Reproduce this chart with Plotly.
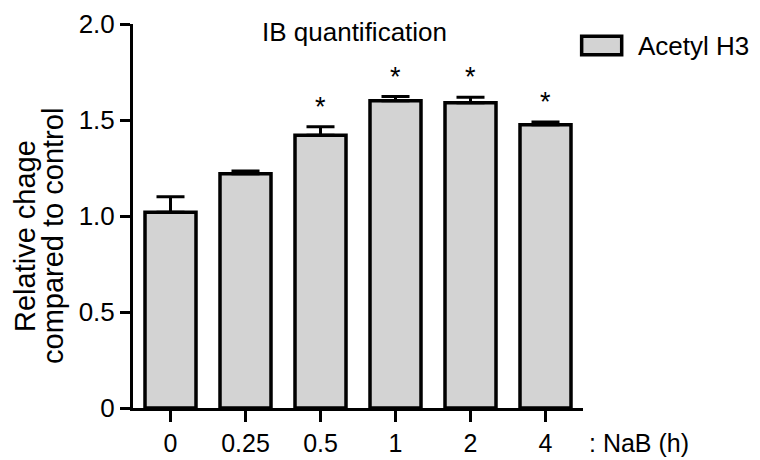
import plotly.graph_objects as go

categories = ["0", "0.25", "0.5", "1", "2", "4"]
values = [1.02, 1.22, 1.42, 1.60, 1.59, 1.475]
errors = [0.08, 0.015, 0.045, 0.022, 0.028, 0.015]
significant = [False, False, True, True, True, True]
series_name = "Acetyl H3"
y_tickvals = [0, 0.5, 1.0, 1.5, 2.0]
y_ticktext = ["0", "0.5", "1.0", "1.5", "2.0"]
y_title_lines = ["Relative chage", "compared to control"]

FONT = "Liberation Sans, Arial, sans-serif"
FS = 26

fig = go.Figure()
fig.add_trace(go.Bar(
    x=categories, y=values, name=series_name, width=0.68,
    marker=dict(color="#d3d3d3", line=dict(color="black", width=3.5)),
    error_y=dict(type="data", array=errors, arrayminus=[0]*len(errors),
                 symmetric=False, color="black", thickness=3, width=14),
    showlegend=False,
))

for i, (v, e, s) in enumerate(zip(values, errors, significant)):
    if s:
        fig.add_annotation(x=i, y=v + e, text="*", showarrow=False,
                           yanchor="bottom", yshift=3,
                           font=dict(family=FONT, size=27, color="black"))

# legend swatch and label
fig.add_shape(type="rect", xref="paper", yref="paper",
              x0=0.997, x1=1.086, y0=0.920, y1=0.968,
              fillcolor="#d3d3d3", line=dict(color="black", width=3.5))
fig.add_annotation(xref="paper", yref="paper", x=1.118, y=0.944,
                   text=series_name, showarrow=False, xanchor="left", yanchor="middle",
                   font=dict(family=FONT, size=FS, color="black"))

# title
fig.add_annotation(xref="paper", yref="paper", x=0.493, y=0.979,
                   text="IB quantification", showarrow=False, xanchor="center", yanchor="middle",
                   font=dict(family=FONT, size=FS, color="black"))

# x-axis trailing label
fig.add_annotation(xref="paper", yref="paper", x=1.009, y=-0.091,
                   text=": NaB (h)", showarrow=False, xanchor="left", yanchor="middle",
                   font=dict(family=FONT, size=FS - 1, color="black"))

# y-axis title (two lines, tight spacing)
for line, px in zip(y_title_lines, [25, 53]):
    fig.add_annotation(xref="paper", yref="paper", x=(px - 133) / 450, y=0.448,
                       text=line, showarrow=False,
                       textangle=-90, xanchor="center", yanchor="middle",
                       font=dict(family=FONT, size=29, color="black"))

fig.update_layout(
    width=760, height=460,
    margin=dict(l=133, r=177, t=24, b=52, autoexpand=False),
    plot_bgcolor="white", paper_bgcolor="white",
    font=dict(family=FONT, size=FS, color="black"),
    xaxis=dict(type="category", range=[-0.5, 5.5], showline=True, linecolor="black",
               linewidth=3, ticks="outside", ticklen=11, tickwidth=3, tickcolor="black",
               showgrid=False, zeroline=False, tickfont=dict(size=FS - 1), ticklabelstandoff=0,
               automargin=False),
    yaxis=dict(range=[0, 2.0], showline=True, linecolor="black", linewidth=3,
               ticks="outside", ticklen=10, tickwidth=3, tickcolor="black",
               tickvals=y_tickvals, ticktext=y_ticktext, showgrid=False, zeroline=False,
               tickfont=dict(size=FS), automargin=False),
)

fig.write_html("out.html")
